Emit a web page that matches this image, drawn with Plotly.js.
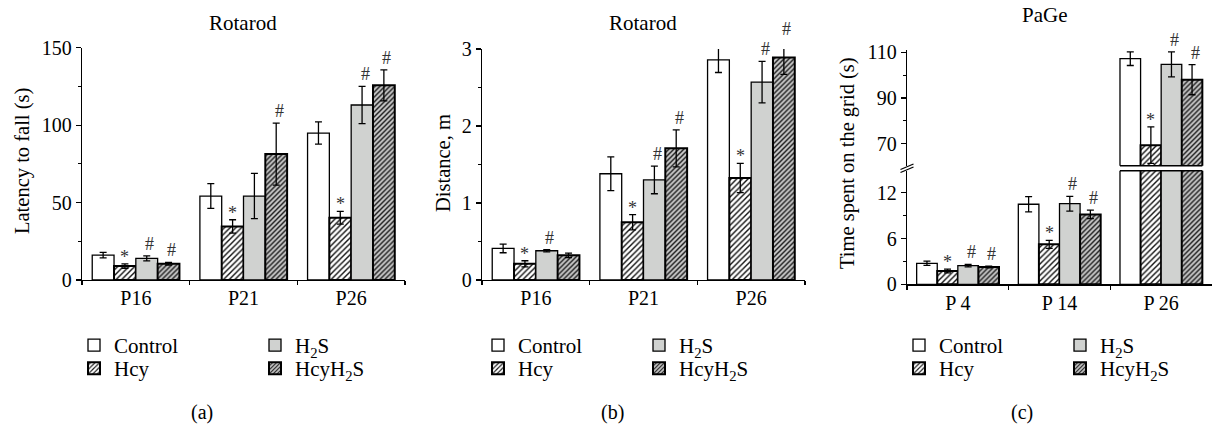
<!DOCTYPE html>
<html><head><meta charset="utf-8">
<script src="https://cdn.plot.ly/plotly-3.0.1.min.js"></script>
<style>html,body{margin:0;padding:0;background:#fff}</style>
</head><body><div id="chart" style="width:1212px;height:426px"></div>
<script>
// ---------- data ----------
const seriesNames = ['Control', 'Hcy', 'H<sub>2</sub>S', 'HcyH<sub>2</sub>S'];
const daysAB = ['P16', 'P21', 'P26'];
const daysC = ['P 4', 'P 14', 'P 26'];

// (a) Rotarod: latency to fall (s)
const latControl = [16.1, 54.2, 94.9];
const latControlErr = [1.8, 8.0, 7.2];
const latHcy = [9.0, 34.6, 40.2];
const latHcyErr = [1.4, 4.3, 4.1];
const latH2S = [14.0, 54.2, 113.0];
const latH2SErr = [1.6, 14.6, 12.0];
const latHcyH2S = [10.5, 81.3, 125.7];
const latHcyH2SErr = [0.9, 20.0, 10.0];
const latSig = [['', '', ''], ['*', '*', '*'], ['#', '', '#'], ['#', '#', '#']];

// (b) Rotarod: distance, m
const distControl = [0.41, 1.38, 2.86];
const distControlErr = [0.056, 0.22, 0.165];
const distHcy = [0.21, 0.75, 1.325];
const distHcyErr = [0.04, 0.10, 0.19];
const distH2S = [0.38, 1.30, 2.57];
const distH2SErr = [0.015, 0.18, 0.27];
const distHcyH2S = [0.32, 1.71, 2.89];
const distHcyH2SErr = [0.03, 0.24, 0.22];
const distSig = [['', '', ''], ['*', '*', '*'], ['#', '#', '#'], ['', '#', '#']];

// (c) PaGe: time spent on the grid (s)
const gridControl = [2.75, 10.5, 107.2];
const gridControlErr = [0.28, 1.0, 3.0];
const gridHcy = [1.75, 5.24, 69.3];
const gridHcyErr = [0.24, 0.52, 8.0];
const gridH2S = [2.45, 10.57, 104.7];
const gridH2SErr = [0.17, 0.96, 5.5];
const gridHcyH2S = [2.27, 9.17, 98.0];
const gridHcyH2SErr = [0.10, 0.55, 6.6];
const gridSig = [['', '', ''], ['*', '*', '*'], ['#', '#', '#'], ['#', '#', '#']];

// ---------- styling ----------
const W = 1212, H = 426;
const px = v => v / W;
const py = v => 1 - v / H;
const FONT = 'Liberation Serif';
const BARGAP = 0.19;

const styles = [
  {color: '#ffffff', lw: 1.3},
  {color: '#ffffff', lw: 2, pattern: {shape: '/', bgcolor: '#ffffff', fgcolor: '#111111', size: 4, solidity: 0.35}},
  {color: '#d0d2d0', lw: 1.3},
  {color: '#c2c2c2', lw: 2, pattern: {shape: '/', bgcolor: '#c6c6c6', fgcolor: '#222222', size: 3.5, solidity: 0.42}}
];

const panelA = {cats: daysAB, vals: [latControl, latHcy, latH2S, latHcyH2S], errs: [latControlErr, latHcyErr, latH2SErr, latHcyH2SErr], sig: latSig};
const panelB = {cats: daysAB, vals: [distControl, distHcy, distH2S, distHcyH2S], errs: [distControlErr, distHcyErr, distH2SErr, distHcyH2SErr], sig: distSig};
const panelC = {cats: daysC, vals: [gridControl, gridHcy, gridH2S, gridHcyH2S], errs: [gridControlErr, gridHcyErr, gridH2SErr, gridHcyH2SErr], sig: gridSig};

// legend placements (per panel, per series): [x px, y px]
const legendPos = [
  [[74, 345.5], [74, 368.5], [255, 345.5], [255, 368.5]],
  [[478, 345.5], [478, 368.5], [639, 345.5], [639, 368.5]],
  [[899, 345.5], [899, 368.5], [1060, 345.5], [1060, 368.5]]
];

const traces = [];
const layoutLegends = {};
let legendCount = 0;

function makeTraces(panel, xa, ya, pIdx, clip, showLeg) {
  panel.vals.forEach((vals, s) => {
    const st = styles[s];
    const marker = {color: st.color, line: {color: '#000', width: st.lw}};
    if (st.pattern) marker.pattern = st.pattern;
    const t = {
      type: 'bar', name: seriesNames[s], x: panel.cats, y: vals,
      xaxis: xa, yaxis: ya, marker: marker,
      error_y: {type: 'data', array: panel.errs[s], visible: true, color: '#000', thickness: 1.3, width: 3.5},
      cliponaxis: clip, hoverinfo: 'skip'
    };
    if (showLeg) {
      legendCount++;
      const lid = legendCount === 1 ? 'legend' : 'legend' + legendCount;
      t.legend = lid;
      t.showlegend = true;
      const pos = legendPos[pIdx][s];
      layoutLegends[lid] = {
        x: px(pos[0]), y: py(pos[1]), xanchor: 'left', yanchor: 'middle',
        bgcolor: 'rgba(0,0,0,0)', borderwidth: 0,
        font: {family: FONT, size: 21, color: '#000'}
      };
    } else {
      t.showlegend = false;
    }
    traces.push(t);
  });
}

makeTraces(panelA, 'x', 'y', 0, true, true);
makeTraces(panelB, 'x2', 'y2', 1, false, true);
makeTraces(panelC, 'x3', 'y3', 2, true, true);
makeTraces(panelC, 'x3', 'y4', 2, true, false);

const cRangeLow = [0, 14.9];
const cRangeHigh = [60.3, 111];

// axis geometry (paper fractions) for placing marks above bars
const yGeom = {
  y: {dom: [py(280), py(47.7)], range: [0, 150]},
  y2: {dom: [py(280), py(49)], range: [0, 3]},
  y3: {dom: [py(284.3), py(170.7)], range: cRangeLow},
  y4: {dom: [py(165.7), py(50)], range: cRangeHigh}
};
const toPaper = (ya, v) => {
  const g = yGeom[ya];
  return g.dom[0] + (v - g.range[0]) / (g.range[1] - g.range[0]) * (g.dom[1] - g.dom[0]);
};

// significance marks
const annotations = [];
function addSig(panel, xa, yaFn) {
  const bw = (1 - BARGAP) / 4;
  panel.sig.forEach((row, s) => {
    row.forEach((mark, g) => {
      if (!mark) return;
      const top = panel.vals[s][g] + panel.errs[s][g];
      const ya = yaFn(panel.vals[s][g]);
      annotations.push({
        text: mark, x: g + (s - 1.5) * bw, y: toPaper(ya, top),
        xref: xa, yref: 'paper',
        showarrow: false, xanchor: 'center', yanchor: 'bottom',
        xshift: mark === '#' ? 3 : 0, yshift: mark === '*' ? -5 : 0,
        font: {family: FONT, size: 18, color: '#333'}
      });
    });
  });
}
addSig(panelA, 'x', () => 'y');
addSig(panelB, 'x2', () => 'y2');
addSig(panelC, 'x3', v => (v > cRangeLow[1] ? 'y4' : 'y3'));

function textAnn(text, x, y, size, angle) {
  annotations.push({
    text: text, x: px(x), y: py(y), xref: 'paper', yref: 'paper',
    showarrow: false, xanchor: 'center', yanchor: 'middle', textangle: angle || 0,
    font: {family: FONT, size: size, color: '#000'}
  });
}
textAnn('Rotarod', 243, 23, 21);
textAnn('Rotarod', 643, 23, 21);
textAnn('PaGe', 1045, 15, 21);
textAnn('Latency to fall (s)', 22, 161, 20.5, -90);
textAnn('Distance, m', 443, 163, 20.5, -90);
textAnn('Time spent on the grid (s)', 847, 163, 20.5, -90);
textAnn('(a)', 202, 412, 20);
textAnn('(b)', 612, 412, 20);
textAnn('(c)', 1022, 412, 20);

const xBase = {
  type: 'category', range: [-0.5, 2.5], showline: true, linecolor: '#000', linewidth: 1.3,
  ticks: 'outside', tickson: 'boundaries', ticklen: 4, tickcolor: '#000', tickwidth: 1.2,
  showgrid: false, zeroline: false, fixedrange: true,
  tickfont: {family: FONT, size: 20, color: '#000'}
};
const yBase = {
  showline: true, linecolor: '#000', linewidth: 1.3, ticks: 'outside', ticklen: 5,
  tickcolor: '#000', tickwidth: 1.2, showgrid: false, zeroline: false, fixedrange: true,
  tickfont: {family: FONT, size: 20, color: '#000'}
};
const minor = d => ({ticks: 'outside', ticklen: 3, tickcolor: '#000', tickwidth: 1, dtick: d, showgrid: false});

const halfGroup = (1 - BARGAP) / 2;
const shapes = [
  // outline of the broken P26 bars at both sides of the axis break
  {type: 'line', xref: 'x3', yref: 'y4 domain', x0: 2 - halfGroup, x1: 2 + halfGroup, y0: 0, y1: 0, line: {color: '#000', width: 1.5}},
  {type: 'line', xref: 'x3', yref: 'y3 domain', x0: 2 - halfGroup, x1: 2 + halfGroup, y0: 1, y1: 1, line: {color: '#000', width: 1.5}},
  // break marks on the axis
  {type: 'line', xref: 'paper', yref: 'paper', x0: px(900.5), y0: py(169.5), x1: px(913.5), y1: py(164), line: {color: '#000', width: 1.2}},
  {type: 'line', xref: 'paper', yref: 'paper', x0: px(900.5), y0: py(172.5), x1: px(913.5), y1: py(167), line: {color: '#000', width: 1.2}}
];

const layout = Object.assign({
  width: W, height: H, margin: {l: 0, r: 0, t: 0, b: 0},
  paper_bgcolor: '#fff', plot_bgcolor: 'rgba(0,0,0,0)',
  barmode: 'group', bargap: BARGAP, bargroupgap: 0,
  font: {family: FONT, size: 20, color: '#000'},
  xaxis: Object.assign({}, xBase, {domain: [px(82), px(405)], anchor: 'y'}),
  yaxis: Object.assign({}, yBase, {domain: yGeom.y.dom, anchor: 'x', range: yGeom.y.range, dtick: 50, minor: minor(25)}),
  xaxis2: Object.assign({}, xBase, {domain: [px(482), px(805)], anchor: 'y2'}),
  yaxis2: Object.assign({}, yBase, {domain: yGeom.y2.dom, anchor: 'x2', range: yGeom.y2.range, dtick: 1, minor: minor(0.5)}),
  xaxis3: Object.assign({}, xBase, {domain: [px(907), 1], anchor: 'y3'}),
  yaxis3: Object.assign({}, yBase, {domain: yGeom.y3.dom, anchor: 'x3', range: cRangeLow, dtick: 6, minor: minor(3)}),
  yaxis4: Object.assign({}, yBase, {domain: yGeom.y4.dom, anchor: 'x3', range: cRangeHigh, tick0: 10, dtick: 20, minor: Object.assign(minor(10), {tick0: 0})}),
  annotations: annotations, shapes: shapes
}, layoutLegends);

Plotly.newPlot('chart', traces, layout, {staticPlot: true, displayModeBar: false});
</script></body></html>
